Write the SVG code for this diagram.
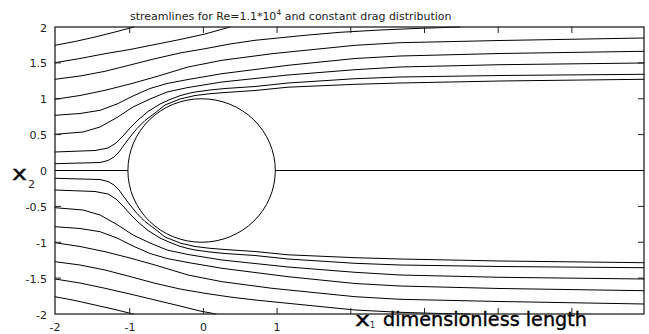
<svg xmlns="http://www.w3.org/2000/svg" width="649" height="334" viewBox="0 0 649 334">
<style>
.sl{fill:none;stroke:#000;stroke-width:1;stroke-linejoin:round;stroke-linecap:round}
.fr{fill:none;stroke:#222;stroke-width:1.3}
.tk{stroke:#222;stroke-width:1}
.tl{font-family:"DejaVu Sans",sans-serif;font-size:11px;fill:#222}
.yl{text-anchor:end}
.xl{text-anchor:middle}
.big{font-family:"DejaVu Sans",sans-serif;font-size:19px;fill:#000;stroke:#000;stroke-width:0.35}
</style>
<rect width="649" height="334" fill="#fff"/>
<g id="title">
<text class="tl" x="130" y="20">streamlines for Re=1.1*10<tspan font-size="7.5" dy="-5">4</tspan><tspan dy="5"> and constant drag distribution</tspan></text>
</g>
<g id="streamlines">
<path class="sl" d="M55,45.3 L75,41.5 L95,37 L115,32 L134,27"/>
<path class="sl" d="M55,62.7 L80,58.5 L105,53.7 L130,49.5 L155,44.5 L180,39.5 L205,34 L230,27"/>
<path class="sl" d="M55,79.3 L80,76 L105,71.3 L130,65 L155,58.7 L180,53 L205,48.7 L230,44 L255,40.3 L305,35.3 L340,32.3 L380,30 L423,28.2 L460,27"/>
<path class="sl" d="M55,99.3 L80,95.5 L105,90.3 L130,84 L155,77 L188,67 L222,60.3 L272,53.7 L355,45.3 L400,42.7 L500,40.5 L644,38"/>
<path class="sl" d="M55,115.3 L80,113.5 L100,110.3 L117,104 L133,96 L150,88.5 L167,83.5 L188,79.5 L222,73.7 L288,65.3 L355,58.5 L400,56 L500,53.5 L644,51.3"/>
<path class="sl" d="M55,134.3 L83,132 L100,127 L117,117.5 L133,107 L150,99 L167,92 L188,87.5 L222,82 L288,75 L355,69.7 L400,67 L500,64.7 L644,63"/>
<path class="sl" d="M55,152 L95,150.5 L108,148 L116,143 L123,136 L130,128 L138,120 L148,111.5 L160,104 L170,99.5 L180,95.7 L188,93.5 L195,92 L210,90 L225,88.5 L255,86.5 L288,83 L355,78.7 L400,77 L500,75.5 L644,74.3"/>
<path class="sl" d="M55,163.7 L100,162.5 L108,160.5 L114,157 L119,152 L124,145 L130,137 L137,128.5 L145,120.5 L155,113 L165,105 L180,99 L195,95.5 L210,93.7 L225,92.5 L255,90.5 L288,87.2 L355,84.3 L400,83 L500,81 L644,79.3"/>
<path class="sl" d="M55,170.5 L128,170.5 M275.3,170.5 L644,170.5"/>
<path class="sl" d="M55,178.3 L100,179.5 L108,181.5 L114,185 L119,190 L124,197 L130,205 L137,213.5 L145,221.5 L155,229 L165,237 L180,243 L195,246.5 L210,248.3 L225,249.5 L255,251.5 L288,254.8 L355,257.7 L400,259 L500,261 L644,262.7"/>
<path class="sl" d="M55,190 L95,191.5 L108,194 L116,199 L123,206 L130,214 L138,222 L148,230.5 L160,238 L170,242.5 L180,246.3 L188,248.5 L195,250 L210,252 L225,253.5 L255,255.5 L288,259 L355,263.3 L400,265 L500,266.5 L644,267.7"/>
<path class="sl" d="M55,207.7 L83,210 L100,215 L117,224.5 L133,235 L150,243 L167,250 L188,254.5 L222,260 L288,267 L355,272.3 L400,275 L500,277.3 L644,279"/>
<path class="sl" d="M55,226.7 L80,228.5 L100,231.7 L117,238 L133,246 L150,253.5 L167,258.5 L188,262.5 L222,268.3 L288,276.7 L355,283.5 L400,286 L500,288.5 L644,290.7"/>
<path class="sl" d="M55,242.7 L80,246.5 L105,251.7 L130,258 L155,265 L188,275 L222,281.7 L272,288.3 L355,296.7 L400,299.3 L500,301.5 L644,304"/>
<path class="sl" d="M55,261.7 L80,265 L105,270 L130,276.5 L155,283.3 L180,289 L205,293.3 L230,297 L255,300 L305,305 L355,310 L400,312.3 L440,313.5 L470,314"/>
<path class="sl" d="M55,279 L80,283 L105,288.3 L130,294 L155,300 L180,306 L200,311 L216,314"/>
<path class="sl" d="M55,296.7 L75,300.5 L95,305 L115,309.5 L133,314"/>
</g>
<g id="cylinder">
<ellipse cx="201.6" cy="170.5" rx="73.7" ry="71.75" fill="#fff" stroke="#000" stroke-width="1"/>
</g>
<g id="axes">
<rect class="fr" x="55" y="27" width="589" height="287"/>
<path class="tk" d="M129.7,314v-6M203.4,314v-6M277.1,314v-6M350.8,314v-6M424.5,314v-6M498.2,314v-6M571.9,314v-6M129.7,27v6M203.4,27v6M277.1,27v6M350.8,27v6M424.5,27v6M498.2,27v6M571.9,27v6M644,62.9h-6M644,98.75h-6M644,134.6h-6M644,206.4h-6M644,242.25h-6M644,278.1h-6M55,62.9h6M55,98.75h6M55,134.6h6M55,206.4h6M55,242.25h6M55,278.1h6"/>
<text class="tl yl" x="47" y="31.5">2</text>
<text class="tl yl" x="47" y="67.4">1.5</text>
<text class="tl yl" x="47" y="103.2">1</text>
<text class="tl yl" x="47" y="139.1">0.5</text>
<text class="tl yl" x="47" y="175">0</text>
<text class="tl yl" x="47" y="210.9">-0.5</text>
<text class="tl yl" x="47" y="246.7">-1</text>
<text class="tl yl" x="47" y="282.6">-1.5</text>
<text class="tl yl" x="47" y="318.5">-2</text>
<text class="tl xl" x="55" y="331">-2</text>
<text class="tl xl" x="130" y="331">-1</text>
<text class="tl xl" x="203.5" y="331">0</text>
<text class="tl xl" x="277" y="331">1</text>
<text class="big" x="12" y="180" textLength="15" lengthAdjust="spacingAndGlyphs">x</text>
<text class="tl" x="28" y="188">2</text>
<text class="big" x="355" y="326" textLength="15" lengthAdjust="spacingAndGlyphs">x</text>
<text class="tl" x="370" y="328" style="font-size:8px">1</text>
<text class="big" x="383" y="326" textLength="204" lengthAdjust="spacingAndGlyphs">dimensionless length</text>
</g>
</svg>
